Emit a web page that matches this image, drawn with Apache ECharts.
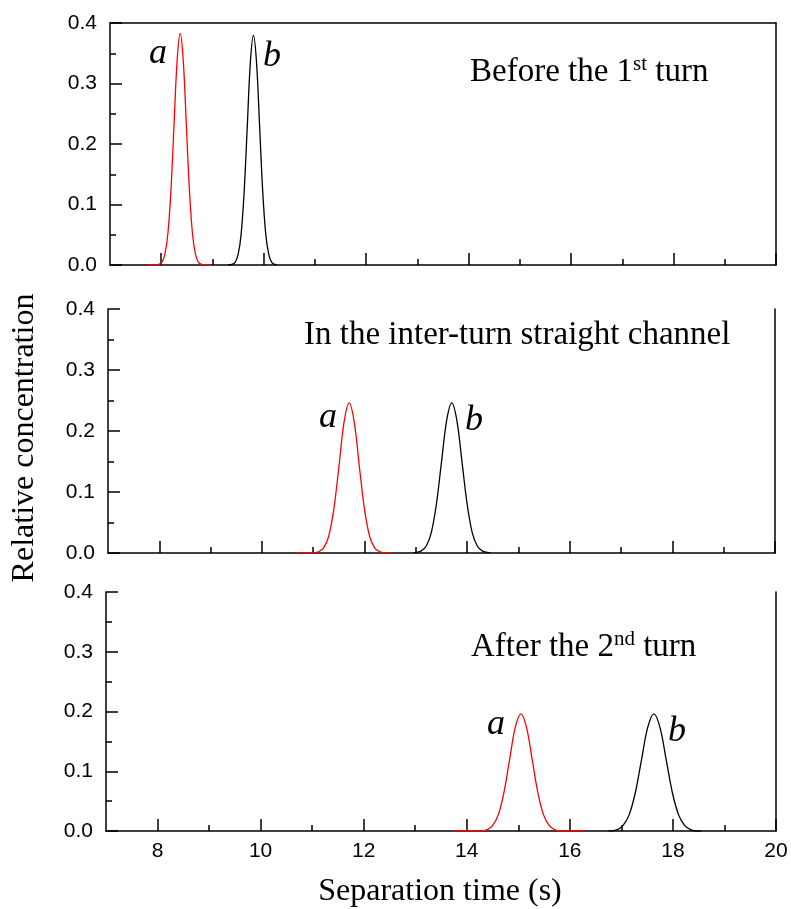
<!DOCTYPE html>
<html>
<head>
<meta charset="utf-8">
<script src="https://cdn.jsdelivr.net/npm/echarts@6/dist/echarts.min.js"></script>
<style>html,body{margin:0;padding:0;background:#fff;}#c{width:791px;height:909px;}</style>
</head>
<body>
<div id="c"></div>
<script>
// ---- data ----
const xMajorTicks = [8, 10, 12, 14, 16, 18, 20];
const xMinorTicks = [9, 11, 13, 15, 17, 19];
const yTicks = [0.0, 0.1, 0.2, 0.3, 0.4];

// Panel 1: Before the 1st turn
const p1aX = [7.74, 7.90, 7.95, 8.01, 8.07, 8.13, 8.19, 8.25, 8.31, 8.37, 8.43, 8.49, 8.55, 8.61, 8.67, 8.73, 8.79, 8.85, 8.94];
const p1aY = [0, 0, 0.001, 0.004, 0.017, 0.052, 0.124, 0.232, 0.338, 0.383, 0.338, 0.232, 0.124, 0.052, 0.017, 0.004, 0.001, 0, 0];
const p1bX = [9.30, 9.38, 9.44, 9.50, 9.56, 9.62, 9.68, 9.74, 9.80, 9.86, 9.92, 9.98, 10.04, 10.10, 10.16, 10.22, 10.26];
const p1bY = [0, 0.001, 0.004, 0.017, 0.051, 0.123, 0.230, 0.335, 0.380, 0.335, 0.230, 0.123, 0.051, 0.017, 0.004, 0.001, 0];

// Panel 2: In the inter-turn straight channel
const p2aX = [10.70, 11.00, 11.10, 11.20, 11.30, 11.40, 11.50, 11.60, 11.70, 11.80, 11.90, 12.00, 12.10, 12.20, 12.30, 12.40, 12.53];
const p2aY = [0, 0, 0.002, 0.008, 0.027, 0.071, 0.141, 0.214, 0.246, 0.214, 0.141, 0.071, 0.027, 0.008, 0.002, 0, 0];
const p2bX = [12.95, 13.00, 13.10, 13.20, 13.30, 13.40, 13.50, 13.60, 13.70, 13.80, 13.90, 14.00, 14.10, 14.20, 14.30, 14.40, 14.45];
const p2bY = [0, 0.001, 0.003, 0.011, 0.033, 0.080, 0.149, 0.217, 0.246, 0.217, 0.149, 0.080, 0.033, 0.011, 0.003, 0.001, 0];

// Panel 3: After the 2nd turn
const p3aX = [13.74, 14.28, 14.39, 14.50, 14.61, 14.72, 14.83, 14.94, 15.05, 15.16, 15.27, 15.38, 15.49, 15.60, 15.71, 15.82, 16.30];
const p3aY = [0, 0, 0.002, 0.009, 0.027, 0.064, 0.119, 0.173, 0.196, 0.173, 0.119, 0.064, 0.027, 0.009, 0.002, 0, 0];
const p3bX = [16.75, 16.91, 17.03, 17.15, 17.27, 17.39, 17.51, 17.63, 17.75, 17.87, 17.99, 18.11, 18.23, 18.35, 18.47, 18.55];
const p3bY = [0, 0.002, 0.009, 0.027, 0.064, 0.119, 0.173, 0.196, 0.173, 0.119, 0.064, 0.027, 0.009, 0.002, 0, 0];

const panelTitles = ['Before the 1', 'In the inter-turn straight channel', 'After the 2'];

// ---- chart ----
const zip = (xs, ys) => xs.map((x, i) => [x, ys[i]]);
const SERIF = '"Liberation Serif", "Times New Roman", serif';
const SANS = '"Liberation Sans", Arial, Helvetica, sans-serif';
const AX = { color: '#000', width: 1.5 };

const grids = [
  { left: 110, right: 15, top: 23, height: 242 },
  { left: 108, right: 16, top: 309, height: 244 },
  { left: 106, right: 15, top: 592, height: 239 }
];

const xAxes = [], yAxes = [], series = [];
const curves = [
  [[p1aX, p1aY, '#ff0000'], [p1bX, p1bY, '#000000']],
  [[p2aX, p2aY, '#ff0000'], [p2bX, p2bY, '#000000']],
  [[p3aX, p3aY, '#ff0000'], [p3bX, p3bY, '#000000']]
];

grids.forEach((g, i) => {
  const base = { gridIndex: i, type: 'value', min: 7, max: 20, interval: 1, splitLine: { show: false } };
  xAxes.push(Object.assign({}, base, {
    position: 'bottom',
    axisLine: { show: true, onZero: false, lineStyle: AX },
    axisTick: { show: true, inside: true, length: 12, customValues: xMajorTicks, lineStyle: AX },
    axisLabel: { show: i === 2, customValues: xMajorTicks, margin: 10, fontFamily: SANS, fontSize: 21, color: '#000' }
  }));
  xAxes.push(Object.assign({}, base, {
    position: 'bottom',
    axisLine: { show: false, onZero: false },
    axisTick: { show: true, inside: true, length: 6, customValues: xMinorTicks, lineStyle: AX },
    axisLabel: { show: false }
  }));
  xAxes.push(Object.assign({}, base, {
    position: 'top',
    axisLine: { show: i === 0, onZero: false, lineStyle: AX },
    axisTick: { show: false },
    axisLabel: { show: false }
  }));
  yAxes.push({
    gridIndex: i, type: 'value', min: 0, max: 0.4, interval: 0.1, position: 'left',
    splitLine: { show: false },
    axisLine: { show: true, onZero: false, lineStyle: AX },
    axisTick: { show: true, inside: true, length: 12, lineStyle: AX },
    minorTick: { show: true, splitNumber: 2, length: 6, lineStyle: AX },
    axisLabel: { show: true, margin: 13, fontFamily: SANS, fontSize: 21, color: '#000',
      formatter: v => v.toFixed(1) }
  });
  yAxes.push({
    gridIndex: i, type: 'value', min: 0, max: 0.4, interval: 0.1, position: 'right',
    splitLine: { show: false },
    axisLine: { show: true, onZero: false, lineStyle: AX },
    axisTick: { show: false }, axisLabel: { show: false }
  });
  curves[i].forEach(([xs, ys, col]) => {
    series.push({
      type: 'line', xAxisIndex: i * 3, yAxisIndex: i * 2,
      data: zip(xs, ys), showSymbol: false, symbol: 'none',
      smooth: 0.35,
      lineStyle: { color: col, width: 1.3 }, silent: true, animation: false
    });
  });
});

function label(t, x, y) {
  return { type: 'text', x, y, style: { text: t, font: 'italic 36px ' + SERIF, fill: '#000', align: 'center', verticalAlign: 'bottom' } };
}
function title(txt, sup, tail, x, y) {
  return {
    type: 'text', x, y,
    style: {
      text: sup ? '{n|' + txt + '}{s|' + sup + '}{n|' + tail + '}' : '{n|' + txt + '}',
      align: 'left', verticalAlign: 'bottom',
      rich: {
        n: { fontFamily: SERIF, fontSize: 33, fill: '#000', lineHeight: 37 },
        s: { fontFamily: SERIF, fontSize: 21, fill: '#000', verticalAlign: 'top', lineHeight: 37 }
      }
    }
  };
}

const graphic = [
  title(panelTitles[0], 'st', ' turn', 470, 91),
  title(panelTitles[1], null, null, 304, 354),
  title(panelTitles[2], 'nd', ' turn', 471, 666),
  label('a', 158, 72), label('b', 272, 75),
  label('a', 328, 436), label('b', 474, 439),
  label('a', 496, 743), label('b', 677, 750),
  { type: 'text', x: 25, y: 438, rotation: Math.PI / 2,
    style: { text: 'Relative concentration', font: '32px ' + SERIF, fill: '#000', align: 'center', verticalAlign: 'middle' } },
  { type: 'text', x: 440, y: 892,
    style: { text: 'Separation time (s)', font: '32px ' + SERIF, fill: '#000', align: 'center', verticalAlign: 'middle' } }
];

const chart = echarts.init(document.getElementById('c'), null, { renderer: 'canvas' });
chart.setOption({
  animation: false,
  backgroundColor: '#fff',
  grid: grids,
  xAxis: xAxes,
  yAxis: yAxes,
  series: series,
  graphic: graphic
});
</script>
</body>
</html>
